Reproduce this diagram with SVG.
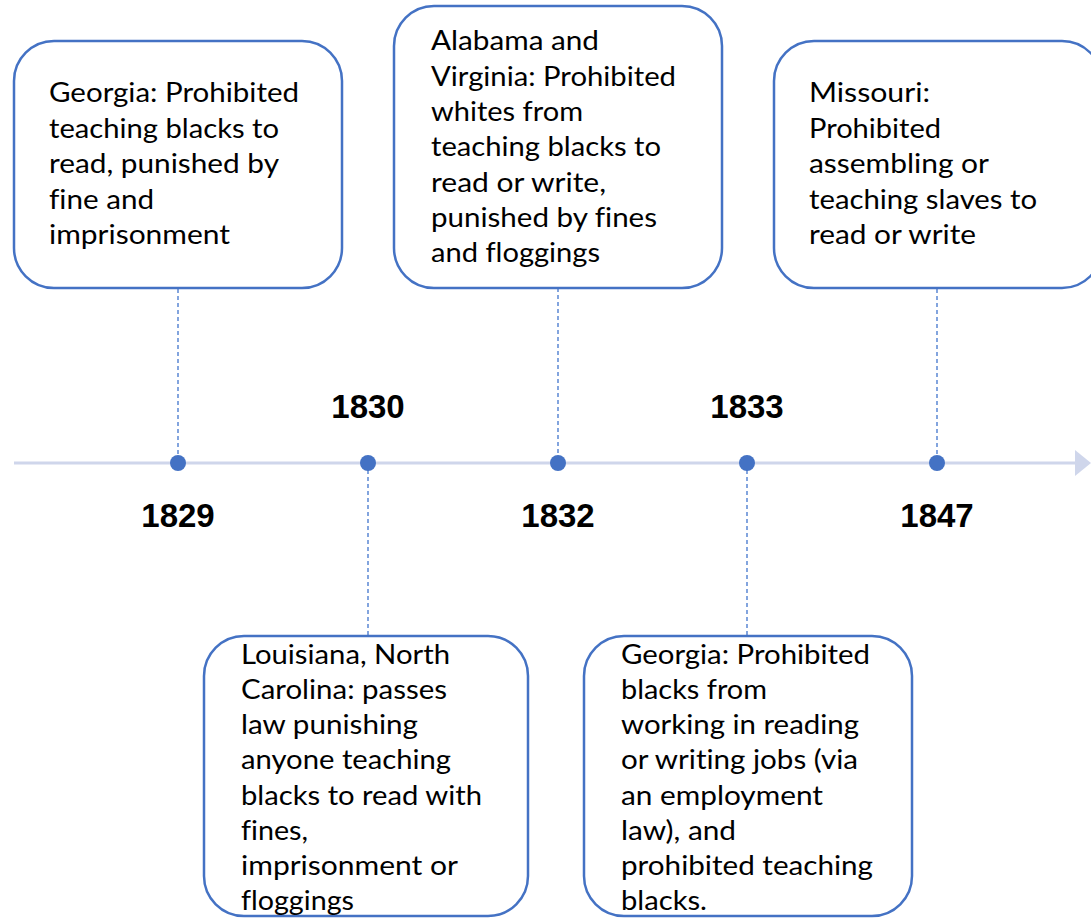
<svg xmlns="http://www.w3.org/2000/svg" width="1091" height="918" viewBox="0 0 1091 918">
<style>
.box{fill:#fff;stroke:#4472c4;stroke-width:2.5}
.t{font-family:Lato,"Open Sans","Liberation Sans",sans-serif;font-size:26px;fill:#000;font-variant-ligatures:none}
.yr{font-family:"Liberation Sans",Arial,sans-serif;font-size:33px;font-weight:bold;fill:#000;text-anchor:middle}
.dash{stroke:#4f7fd0;stroke-width:1.4;stroke-dasharray:4 3;fill:none}
.dot{fill:#4472c4}
.axis{stroke:#cfd6eb;stroke-width:3}
</style>
<rect width="1091" height="918" fill="#fff"/>
<g id="connectors">
<line class="axis" x1="14" y1="463" x2="1077" y2="463"/>
<polygon points="1075,450 1091,463 1075,476" fill="#cfd6eb"/>
<line class="dash" x1="178" y1="289" x2="178" y2="463"/>
<line class="dash" x1="368" y1="463" x2="368" y2="636"/>
<line class="dash" x1="558" y1="288" x2="558" y2="463"/>
<line class="dash" x1="747" y1="463" x2="747" y2="636"/>
<line class="dash" x1="937" y1="289" x2="937" y2="463"/>
<circle class="dot" cx="178" cy="463" r="8"/>
<circle class="dot" cx="368" cy="463" r="8"/>
<circle class="dot" cx="558" cy="463" r="8"/>
<circle class="dot" cx="747" cy="463" r="8"/>
<circle class="dot" cx="937" cy="463" r="8"/>
</g>
<g id="years">
<text class="yr" x="178" y="527">1829</text>
<text class="yr" x="368" y="418">1830</text>
<text class="yr" x="558" y="527">1832</text>
<text class="yr" x="747" y="418">1833</text>
<text class="yr" x="937" y="527">1847</text>
</g>
<g id="node-1829">
<rect class="box" x="14" y="41" width="328" height="247" rx="40"/>
<text class="t" x="49" y="102" textLength="250" lengthAdjust="spacingAndGlyphs">Georgia: Prohibited</text>
<text class="t" x="49" y="138" textLength="230" lengthAdjust="spacingAndGlyphs">teaching blacks to</text>
<text class="t" x="49" y="173" textLength="230" lengthAdjust="spacingAndGlyphs">read, punished by</text>
<text class="t" x="49" y="209" textLength="105" lengthAdjust="spacingAndGlyphs">fine and</text>
<text class="t" x="49" y="244" textLength="181" lengthAdjust="spacingAndGlyphs">imprisonment</text>
</g>
<g id="node-1832">
<rect class="box" x="394" y="6" width="328" height="282" rx="40"/>
<text class="t" x="431" y="50" textLength="168" lengthAdjust="spacingAndGlyphs">Alabama and</text>
<text class="t" x="431" y="86" textLength="245" lengthAdjust="spacingAndGlyphs">Virginia: Prohibited</text>
<text class="t" x="431" y="121" textLength="152" lengthAdjust="spacingAndGlyphs">whites from</text>
<text class="t" x="431" y="156" textLength="230" lengthAdjust="spacingAndGlyphs">teaching blacks to</text>
<text class="t" x="431" y="192" textLength="175" lengthAdjust="spacingAndGlyphs">read or write,</text>
<text class="t" x="431" y="227" textLength="226" lengthAdjust="spacingAndGlyphs">punished by fines</text>
<text class="t" x="431" y="262" textLength="169" lengthAdjust="spacingAndGlyphs">and floggings</text>
</g>
<g id="node-1847">
<rect class="box" x="774" y="41" width="328" height="247" rx="40"/>
<text class="t" x="809" y="102" textLength="121" lengthAdjust="spacingAndGlyphs">Missouri:</text>
<text class="t" x="809" y="138" textLength="132" lengthAdjust="spacingAndGlyphs">Prohibited</text>
<text class="t" x="809" y="173" textLength="180" lengthAdjust="spacingAndGlyphs">assembling or</text>
<text class="t" x="809" y="209" textLength="228" lengthAdjust="spacingAndGlyphs">teaching slaves to</text>
<text class="t" x="809" y="244" textLength="167" lengthAdjust="spacingAndGlyphs">read or write</text>
</g>
<g id="node-1830">
<rect class="box" x="204" y="636" width="324" height="280" rx="40"/>
<text class="t" x="241" y="664" textLength="209" lengthAdjust="spacingAndGlyphs">Louisiana, North</text>
<text class="t" x="241" y="699" textLength="206" lengthAdjust="spacingAndGlyphs">Carolina: passes</text>
<text class="t" x="241" y="734" textLength="177" lengthAdjust="spacingAndGlyphs">law punishing</text>
<text class="t" x="241" y="769" textLength="210" lengthAdjust="spacingAndGlyphs">anyone teaching</text>
<text class="t" x="241" y="805" textLength="241" lengthAdjust="spacingAndGlyphs">blacks to read with</text>
<text class="t" x="241" y="840" textLength="67" lengthAdjust="spacingAndGlyphs">fines,</text>
<text class="t" x="241" y="875" textLength="217" lengthAdjust="spacingAndGlyphs">imprisonment or</text>
<text class="t" x="241" y="910" textLength="113" lengthAdjust="spacingAndGlyphs">floggings</text>
</g>
<g id="node-1833">
<rect class="box" x="584" y="636" width="328" height="280" rx="40"/>
<text class="t" x="621" y="664" textLength="249" lengthAdjust="spacingAndGlyphs">Georgia: Prohibited</text>
<text class="t" x="621" y="699" textLength="146" lengthAdjust="spacingAndGlyphs">blacks from</text>
<text class="t" x="621" y="734" textLength="238" lengthAdjust="spacingAndGlyphs">working in reading</text>
<text class="t" x="621" y="769" textLength="237" lengthAdjust="spacingAndGlyphs">or writing jobs (via</text>
<text class="t" x="621" y="805" textLength="202" lengthAdjust="spacingAndGlyphs">an employment</text>
<text class="t" x="621" y="840" textLength="115" lengthAdjust="spacingAndGlyphs">law), and</text>
<text class="t" x="621" y="875" textLength="252" lengthAdjust="spacingAndGlyphs">prohibited teaching</text>
<text class="t" x="621" y="910" textLength="86" lengthAdjust="spacingAndGlyphs">blacks.</text>
</g>
</svg>
